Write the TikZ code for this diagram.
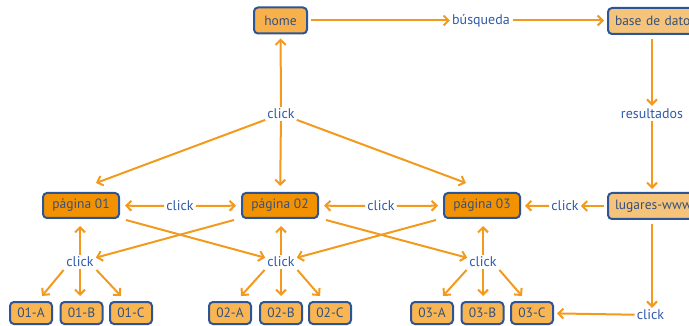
\documentclass[tikz,border=0pt]{standalone}
\usepackage{fontspec}
\setmainfont{PT Sans}
\usetikzlibrary{arrows.meta,calc}
\definecolor{lineor}{HTML}{F39A1E}
\definecolor{edgeblue}{HTML}{2B5597}
\definecolor{labblue}{HTML}{2F5BA8}
\definecolor{boxtext}{HTML}{34507E}
\definecolor{pagefill}{HTML}{F39200}
\definecolor{homefill}{HTML}{F8B04B}
\definecolor{leaffill}{HTML}{F9B552}
\definecolor{palefill}{HTML}{F5C47A}
\tikzset{
  box/.style={draw=edgeblue, line width=2pt, rounded corners=4pt, text=boxtext,
    font=\fontsize{13.5}{15}\selectfont, inner sep=0pt},
  pagebox/.style={box, fill=pagefill, minimum width=76pt, minimum height=25pt},
  leaf/.style={box, fill=leaffill, minimum width=42pt, minimum height=22pt},
  cutbox/.style={box, fill=palefill, anchor=west, minimum height=26pt,
    text width=100pt, align=left, inner xsep=7pt},
  lab/.style={text=labblue, font=\fontsize{14}{16}\selectfont, inner sep=2pt},
  conn/.style={draw=lineor, line width=2pt, -{Straight Barb[length=5pt,width=10pt]}},
}
\begin{document}
\begin{tikzpicture}[x=1pt,y=-1pt]
\useasboundingbox (0,0) rectangle (689,326);
\begin{scope}
\clip (0,0) rectangle (689,326);
% top row
\node[box, fill=homefill, minimum width=53pt, minimum height=26pt] (home) at (280.5,20.5) {home};
\node[lab] (busq) at (481,20.5) {búsqueda};
\node[cutbox] (base) at (607,21) {base de datos};
\node[lab] (res) at (652,114) {resultados};
\node[lab] (c0) at (281,114) {click};
% page row
\node[pagebox] (p1) at (81,205.5) {página 01};
\node[pagebox] (p2) at (280,205.5) {página 02};
\node[pagebox] (p3) at (482,205.5) {página 03};
\node[cutbox] (lug) at (607,206) {lugares-www};
\node[lab] (c1) at (180,206) {click};
\node[lab] (c2) at (381,206) {click};
\node[lab] (c4) at (565,206) {click};
% second click row
\node[lab] (d1) at (80,262) {click};
\node[lab] (d2) at (281,262) {click};
\node[lab] (d3) at (483,262) {click};
% leaves
\node[leaf] (a1) at (31,313) {01-A};
\node[leaf] (b1) at (81.5,313) {01-B};
\node[leaf] (cc1) at (131,313) {01-C};
\node[leaf] (a2) at (230,313) {02-A};
\node[leaf] (b2) at (281,313) {02-B};
\node[leaf] (cc2) at (330,313) {02-C};
\node[leaf] (a3) at (432,313) {03-A};
\node[leaf] (b3) at (482.5,313) {03-B};
\node[leaf] (cc3) at (532,313) {03-C};
\node[lab] (c5) at (650.5,315) {click};
\end{scope}

% search path
\draw[conn, shorten <=3pt] (home) -- (busq);
\draw[conn, shorten <=1pt, shorten >=3pt] (busq) -- (busq -| base.west);
\draw[conn, shorten <=4pt, shorten >=1pt] (base.south -| res) -- (res);
\draw[conn, shorten >=3pt] (res) -- (res |- lug.north);
\draw[conn, shorten <=3pt] (lug.west) -- (c4);
\draw[conn, shorten >=4pt] (c4) -- (p3);
\draw[conn, shorten <=4pt] (lug.south -| res) -- (c5.north -| res);
\draw[conn, shorten >=3pt] (c5) -- (cc3);

% from home area to pages
\draw[conn, shorten >=4pt] (c0) -- (home);
\draw[conn, shorten >=6pt] (c0) -- (p2);
\draw[conn] (c0) -- ($(p1.north)+(15,-9)$);
\draw[conn] (c0) -- ($(p3.north)+(-16,-9)$);

% between pages
\draw[conn, shorten >=5pt] (c1) -- (p1);
\draw[conn, shorten >=5pt] (c1) -- (p2);
\draw[conn, shorten >=5pt] (c2) -- (p2);
\draw[conn, shorten >=5pt] (c2) -- (p3);

% crossing links
\draw[conn] ($(p1.south east)+(6,1)$) -- (d2);
\draw[conn] ($(p2.south west)+(-7,1)$) -- (d1);
\draw[conn] ($(p2.south east)+(7,1)$) -- (d3);
\draw[conn] ($(p3.south west)+(-7,1)$) -- (d2);

% sub-pages
\foreach \d/\p/\a/\b/\c in {d1/p1/a1/b1/cc1, d2/p2/a2/b2/cc2, d3/p3/a3/b3/cc3}{
  \draw[conn, shorten >=7pt] (\d) -- (\d |- \p.south);
  \draw[conn, shorten <=1pt] (\d.south west) -- ($(\a.north)+(11,-5)$);
  \draw[conn, shorten >=5pt] (\d) -- (\d |- \b.north);
  \draw[conn, shorten <=1pt] (\d.south east) -- ($(\c.north)+(-10,-5)$);
}
\end{tikzpicture}
\end{document}
